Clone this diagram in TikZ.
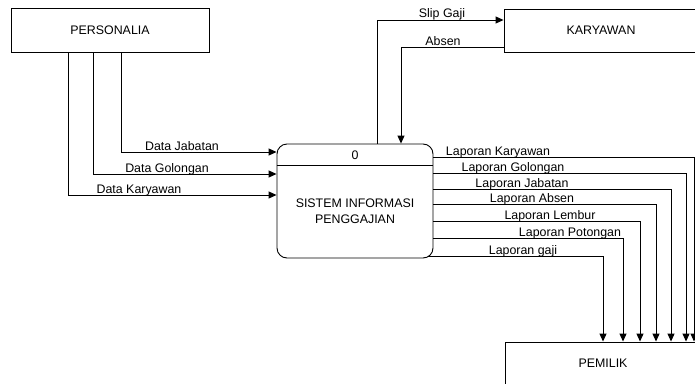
\documentclass[tikz,border=0pt]{standalone}
\usepackage{fontspec}
\setmainfont{Liberation Sans}
\usetikzlibrary{arrows.meta,calc}
\tikzset{
  ent/.style={draw, line width=0.9pt, inner sep=0pt},
  procbox/.style={draw, line width=0.9pt, rounded corners=10pt, inner sep=0pt, minimum width=156pt, minimum height=114pt},
  flow/.style={draw, line width=0.9pt, -{Triangle[length=8pt,width=7pt]}},
  lbl/.style={anchor=base, inner sep=0pt},
  txt/.style={inner sep=0pt, align=center}
}
\begin{document}
\begin{tikzpicture}[x=1pt,y=-1pt,font=\fontsize{12.4}{15.5}\selectfont]
\useasboundingbox (0,0) rectangle (695,383);
% entities
\node[ent, minimum width=198pt, minimum height=44pt] (pers) at (110,30) {PERSONALIA};
\node[ent, minimum width=194pt, minimum height=43pt] (kar) at (601,30.5) {KARYAWAN};
\node[ent, minimum width=196pt, minimum height=42pt] (pem) at (603,363) {PEMILIK};
% process
\node[procbox] (proc) at (355,201) {};
\draw[line width=0.9pt] (proc.west |- 0,165) coordinate (dl) -- (proc.east |- 0,165) coordinate (dr);
\node[txt] (pnum) at (355,155) {0};
\node[txt] (pname) at (355,211) {SISTEM INFORMASI\\PENGGAJIAN};
% inputs from PERSONALIA
\draw[flow] (pers.south -| 121,0) |- (proc.west |- 0,152);
\node[lbl] (l1) at (182,150) {Data Jabatan};
\draw[flow] (pers.south -| 93,0) |- (proc.west |- 0,174);
\node[lbl] (l2) at (167,172) {Data Golongan};
\draw[flow] (pers.south -| 68,0) |- (proc.west |- 0,195);
\node[lbl] (l3) at (139,193) {Data Karyawan};
% KARYAWAN flows
\draw[flow] (proc.north -| 377,0) |- (kar.west |- 0,20);
\node[lbl] (l4) at (442,17.5) {Slip Gaji};
\draw[flow] (kar.west |- 0,47) -| (proc.north -| 401,0);
\node[lbl] (l5) at (443,45) {Absen};
% outputs to PEMILIK
\draw[flow] (proc.east |- 0,157) -| (pem.north -| 694,0);
\node[lbl] (o1) at (498,155) {Laporan Karyawan};
\draw[flow] (proc.east |- 0,173) -| (pem.north -| 686,0);
\node[lbl] (o2) at (513,171) {Laporan Golongan};
\draw[flow] (proc.east |- 0,189) -| (pem.north -| 671,0);
\node[lbl] (o3) at (522,187) {Laporan Jabatan};
\draw[flow] (proc.east |- 0,204) -| (pem.north -| 656,0);
\node[lbl] (o4) at (532,202) {Laporan Absen};
\draw[flow] (proc.east |- 0,221) -| (pem.north -| 640,0);
\node[lbl] (o5) at (550,219) {Laporan Lembur};
\draw[flow] (proc.east |- 0,238) -| (pem.north -| 623,0);
\node[lbl] (o6) at (570,236) {Laporan Potongan};
\draw[flow] ($(proc.east |- 0,256)+(-5,0)$) -| (pem.north -| 603,0);
\node[lbl] (o7) at (523,254) {Laporan gaji};
\end{tikzpicture}
\end{document}
